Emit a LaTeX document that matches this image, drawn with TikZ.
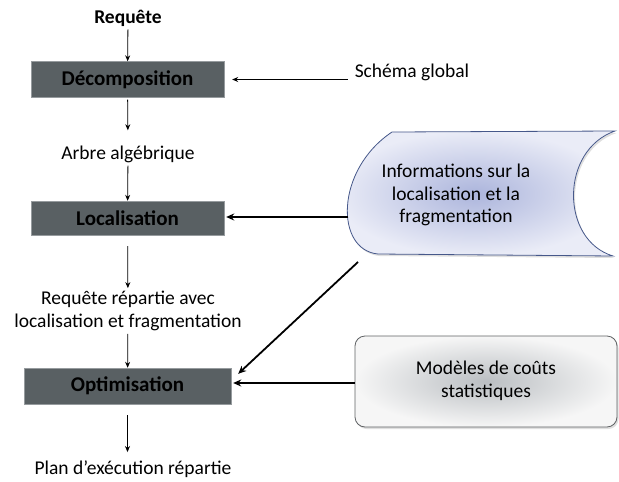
\documentclass[tikz,border=0pt]{standalone}
\usepackage{fontspec}
\setmainfont{Carlito}
\usetikzlibrary{arrows.meta,shadows}

\definecolor{boxgray}{RGB}{89,96,99}
\definecolor{boxedge}{RGB}{150,155,158}
\definecolor{infoin}{RGB}{172,181,220}
\definecolor{infoout}{RGB}{234,236,247}
\definecolor{infoedge}{RGB}{70,88,138}
\definecolor{modin}{RGB}{186,190,194}
\definecolor{modout}{RGB}{246,246,246}
\definecolor{modedge}{RGB}{95,98,100}

\begin{document}
\begin{tikzpicture}[x=1pt,y=1pt]
\tikzstyle{every node}+=[inner sep=3pt]
\tikzstyle{lbl}=[font=\fontsize{19.5}{22.5}\selectfont, align=center]
\tikzstyle{procbox}=[draw=boxedge, fill=boxgray, minimum width=193pt, minimum height=36pt, font=\fontsize{21}{24}\selectfont\bfseries]
\tikzstyle{arr}=[-{Stealth[length=6pt,width=5pt]}, line width=0.8pt]
\tikzstyle{thickarr}=[-{Stealth[length=8pt,width=7pt]}, line width=1.8pt]
\useasboundingbox (0,0) rectangle (619,-482);
% main chain
\node [lbl, anchor=base] (req) at (128,-23) {\bfseries Requête};
\node [procbox] (decomp) at (127.5,-79.5) {Décomposition};
\node [lbl, anchor=base] (arbre) at (128,-159) {Arbre algébrique};
\node [procbox, minimum height=34pt] (loc) at (127.5,-218) {Localisation};
\node [lbl] (reqrep) at (128,-311) {Requête répartie avec\\localisation et fragmentation};
\node [procbox, minimum width=207pt] (optim) at (127.5,-386) {Optimisation};
\node [lbl, anchor=base] (plan) at (133,-474) {Plan d’exécution répartie};
% inputs
\node [lbl, anchor=base] (schema) at (412,-77) {Schéma global};
\path [draw=infoedge, line width=0.8pt, inner color=infoin, outer color=infoout,
  drop shadow={opacity=0.25, shadow xshift=1.5pt, shadow yshift=-2pt}]
  (392,-132) -- (615,-131)
  .. controls (560,-150) and (560,-240) .. (613,-256)
  -- (378,-254)
  .. controls (335,-250) and (335,-170) .. (392,-132) -- cycle;
\node [lbl] (info) at (456,-195) {Informations sur la\\localisation et la\\fragmentation};
\coordinate (infoW) at (348,-217);
\coordinate (infoSW) at (358,-262);
\node [lbl, draw=modedge, line width=0.8pt, rounded corners=10pt, inner color=modin, outer color=modout,
  minimum width=262pt, minimum height=91pt,
  drop shadow={opacity=0.25, shadow xshift=1.5pt, shadow yshift=-2pt}] (models) at (486,-381.5) {\raisebox{-4pt}{\begin{tabular}{@{}c@{}}Modèles de coûts\\statistiques\end{tabular}}};
\coordinate (optimIn) at ([xshift=7pt,yshift=-6pt]optim.north east);
\coordinate (modelsW) at ([yshift=-1.5pt]models.west);
% connectors
\draw [arr] (req) -- (decomp);
\draw [arr, shorten <=2pt, shorten >=12pt] (decomp) -- (arbre);
\draw [arr] (arbre) -- (loc);
\draw [arr, shorten <=11pt] (loc) -- (reqrep);
\draw [arr] (reqrep) -- (optim);
\draw [arr, shorten <=11pt, shorten >=5pt] (optim) -- (optim |- plan.north);
\draw [arr, shorten <=4pt, shorten >=8pt] (schema.west |- decomp.east) -- (decomp.east);
\draw [thickarr, shorten >=2pt] (infoW) -- (loc.east |- infoW);
\draw [thickarr] (infoSW) -- (optimIn);
\draw [thickarr, shorten >=2pt] (modelsW) -- (optim.east |- modelsW);
\end{tikzpicture}
\end{document}
